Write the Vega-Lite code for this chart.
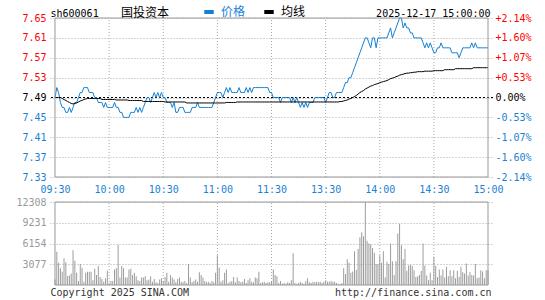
{
"$schema": "https://vega.github.io/schema/vega-lite/v6.json",
"width": 443, "height": 267,
"autosize": {"type": "none"},
"padding": {"left": 50, "top": 18, "right": 52, "bottom": 15},
"background": "white",
"config": {
  "view": {"stroke": null},
  "font": "DejaVu Sans Mono",
  "axis": {"labelFont": "DejaVu Sans Mono", "labelFontSize": 10, "titleFont": "DejaVu Sans Mono", "titleFontSize": 10, "titleFontWeight": "normal", "labelOverlap": false},
  "axisX": {"grid": false}
},
"datasets": {
"vg": [{"m":30},{"m":60},{"m":90},{"m":120},{"m":150},{"m":180},{"m":210}],
"d": [
{"m":0,"p":7.49,"a":7.490,"v":800},{"m":1,"p":7.51,"a":7.490,"v":4920},{"m":2,"p":7.50,"a":7.490,"v":3290},{"m":3,"p":7.48,"a":7.490,"v":2500},{"m":4,"p":7.47,"a":7.488,"v":1960},{"m":5,"p":7.47,"a":7.486,"v":3980},{"m":6,"p":7.46,"a":7.484,"v":3390},{"m":7,"p":7.46,"a":7.482,"v":1320},{"m":8,"p":7.47,"a":7.480,"v":1400},{"m":9,"p":7.46,"a":7.478,"v":1700},
{"m":10,"p":7.47,"a":7.477,"v":5170},{"m":11,"p":7.48,"a":7.478,"v":3590},{"m":12,"p":7.48,"a":7.479,"v":1800},{"m":13,"p":7.49,"a":7.481,"v":600},{"m":14,"p":7.50,"a":7.483,"v":3100},{"m":15,"p":7.50,"a":7.484,"v":2550},{"m":16,"p":7.51,"a":7.486,"v":500},{"m":17,"p":7.51,"a":7.487,"v":1800},{"m":18,"p":7.51,"a":7.488,"v":1950},{"m":19,"p":7.50,"a":7.488,"v":1950},
{"m":20,"p":7.50,"a":7.488,"v":1950},{"m":21,"p":7.50,"a":7.488,"v":700},{"m":22,"p":7.49,"a":7.488,"v":2400},{"m":23,"p":7.49,"a":7.488,"v":1500},{"m":24,"p":7.48,"a":7.488,"v":2800},{"m":25,"p":7.48,"a":7.488,"v":1200},{"m":26,"p":7.48,"a":7.486,"v":900},{"m":27,"p":7.47,"a":7.486,"v":500},{"m":28,"p":7.48,"a":7.486,"v":1000},{"m":29,"p":7.47,"a":7.486,"v":2100},
{"m":30,"p":7.47,"a":7.486,"v":300},{"m":31,"p":7.47,"a":7.486,"v":600},{"m":32,"p":7.47,"a":7.486,"v":600},{"m":33,"p":7.48,"a":7.486,"v":2300},{"m":34,"p":7.47,"a":7.485,"v":2500},{"m":35,"p":7.47,"a":7.485,"v":5950},{"m":36,"p":7.46,"a":7.485,"v":1100},{"m":37,"p":7.46,"a":7.485,"v":2800},{"m":38,"p":7.45,"a":7.485,"v":2500},{"m":39,"p":7.45,"a":7.485,"v":1100},
{"m":40,"p":7.45,"a":7.485,"v":1100},{"m":41,"p":7.45,"a":7.484,"v":2300},{"m":42,"p":7.46,"a":7.484,"v":2400},{"m":43,"p":7.46,"a":7.484,"v":1500},{"m":44,"p":7.46,"a":7.484,"v":1800},{"m":45,"p":7.47,"a":7.484,"v":1300},{"m":46,"p":7.46,"a":7.484,"v":700},{"m":47,"p":7.47,"a":7.484,"v":600},{"m":48,"p":7.46,"a":7.484,"v":1100},{"m":49,"p":7.47,"a":7.482,"v":1100},
{"m":50,"p":7.48,"a":7.482,"v":1300},{"m":51,"p":7.49,"a":7.482,"v":700},{"m":52,"p":7.49,"a":7.482,"v":800},{"m":53,"p":7.48,"a":7.482,"v":1300},{"m":54,"p":7.49,"a":7.482,"v":500},{"m":55,"p":7.50,"a":7.482,"v":900},{"m":56,"p":7.49,"a":7.482,"v":400},{"m":57,"p":7.50,"a":7.482,"v":300},{"m":58,"p":7.49,"a":7.482,"v":800},{"m":59,"p":7.50,"a":7.482,"v":1000},
{"m":60,"p":7.49,"a":7.482,"v":600},{"m":61,"p":7.49,"a":7.481,"v":1200},{"m":62,"p":7.48,"a":7.481,"v":1800},{"m":63,"p":7.48,"a":7.481,"v":500},{"m":64,"p":7.48,"a":7.481,"v":1500},{"m":65,"p":7.47,"a":7.481,"v":1100},{"m":66,"p":7.48,"a":7.481,"v":800},{"m":67,"p":7.46,"a":7.481,"v":400},{"m":68,"p":7.46,"a":7.481,"v":900},{"m":69,"p":7.47,"a":7.481,"v":1100},
{"m":70,"p":7.47,"a":7.481,"v":500},{"m":71,"p":7.47,"a":7.481,"v":400},{"m":72,"p":7.46,"a":7.481,"v":600},{"m":73,"p":7.46,"a":7.479,"v":300},{"m":74,"p":7.46,"a":7.479,"v":3100},{"m":75,"p":7.46,"a":7.479,"v":1100},{"m":76,"p":7.47,"a":7.479,"v":400},{"m":77,"p":7.47,"a":7.479,"v":600},{"m":78,"p":7.47,"a":7.479,"v":800},{"m":79,"p":7.48,"a":7.479,"v":500},
{"m":80,"p":7.47,"a":7.479,"v":1900},{"m":81,"p":7.47,"a":7.479,"v":1500},{"m":82,"p":7.47,"a":7.479,"v":1100},{"m":83,"p":7.47,"a":7.479,"v":600},{"m":84,"p":7.47,"a":7.479,"v":400},{"m":85,"p":7.47,"a":7.479,"v":500},{"m":86,"p":7.47,"a":7.479,"v":300},{"m":87,"p":7.47,"a":7.479,"v":600},{"m":88,"p":7.48,"a":7.479,"v":400},{"m":89,"p":7.49,"a":7.479,"v":1800},
{"m":90,"p":7.50,"a":7.479,"v":4430},{"m":91,"p":7.50,"a":7.479,"v":2600},{"m":92,"p":7.50,"a":7.479,"v":500},{"m":93,"p":7.49,"a":7.479,"v":700},{"m":94,"p":7.50,"a":7.479,"v":1800},{"m":95,"p":7.51,"a":7.480,"v":2300},{"m":96,"p":7.50,"a":7.480,"v":300},{"m":97,"p":7.51,"a":7.480,"v":500},{"m":98,"p":7.50,"a":7.480,"v":600},{"m":99,"p":7.50,"a":7.480,"v":1200},
{"m":100,"p":7.50,"a":7.480,"v":400},{"m":101,"p":7.50,"a":7.481,"v":1100},{"m":102,"p":7.51,"a":7.481,"v":600},{"m":103,"p":7.50,"a":7.481,"v":400},{"m":104,"p":7.50,"a":7.481,"v":500},{"m":105,"p":7.50,"a":7.481,"v":900},{"m":106,"p":7.51,"a":7.481,"v":300},{"m":107,"p":7.50,"a":7.481,"v":700},{"m":108,"p":7.51,"a":7.481,"v":1000},{"m":109,"p":7.50,"a":7.481,"v":500},
{"m":110,"p":7.51,"a":7.481,"v":400},{"m":111,"p":7.51,"a":7.481,"v":1100},{"m":112,"p":7.51,"a":7.481,"v":1000},{"m":113,"p":7.51,"a":7.481,"v":1950},{"m":114,"p":7.51,"a":7.481,"v":300},{"m":115,"p":7.51,"a":7.481,"v":400},{"m":116,"p":7.51,"a":7.481,"v":500},{"m":117,"p":7.51,"a":7.481,"v":300},{"m":118,"p":7.51,"a":7.481,"v":400},{"m":119,"p":7.50,"a":7.481,"v":400},
{"m":120,"p":7.50,"a":7.481,"v":600},{"m":121,"p":7.49,"a":7.481,"v":2300},{"m":122,"p":7.49,"a":7.481,"v":1500},{"m":123,"p":7.49,"a":7.481,"v":1300},{"m":124,"p":7.49,"a":7.481,"v":300},{"m":125,"p":7.48,"a":7.481,"v":600},{"m":126,"p":7.49,"a":7.481,"v":200},{"m":127,"p":7.49,"a":7.481,"v":300},{"m":128,"p":7.49,"a":7.481,"v":200},{"m":129,"p":7.49,"a":7.481,"v":400},
{"m":130,"p":7.49,"a":7.481,"v":300},{"m":131,"p":7.48,"a":7.481,"v":700},{"m":132,"p":7.49,"a":7.481,"v":4700},{"m":133,"p":7.48,"a":7.481,"v":300},{"m":134,"p":7.49,"a":7.481,"v":200},{"m":135,"p":7.48,"a":7.481,"v":300},{"m":136,"p":7.47,"a":7.481,"v":500},{"m":137,"p":7.48,"a":7.481,"v":300},{"m":138,"p":7.47,"a":7.481,"v":200},{"m":139,"p":7.48,"a":7.481,"v":600},
{"m":140,"p":7.47,"a":7.481,"v":1000},{"m":141,"p":7.48,"a":7.481,"v":400},{"m":142,"p":7.48,"a":7.481,"v":300},{"m":143,"p":7.48,"a":7.481,"v":500},{"m":144,"p":7.49,"a":7.481,"v":400},{"m":145,"p":7.49,"a":7.481,"v":500},{"m":146,"p":7.49,"a":7.481,"v":400},{"m":147,"p":7.49,"a":7.481,"v":500},{"m":148,"p":7.49,"a":7.481,"v":300},{"m":149,"p":7.49,"a":7.481,"v":500},
{"m":150,"p":7.48,"a":7.481,"v":700},{"m":151,"p":7.49,"a":7.481,"v":500},{"m":152,"p":7.50,"a":7.481,"v":500},{"m":153,"p":7.50,"a":7.481,"v":600},{"m":154,"p":7.49,"a":7.481,"v":500},{"m":155,"p":7.49,"a":7.481,"v":500},{"m":156,"p":7.50,"a":7.481,"v":300},{"m":157,"p":7.50,"a":7.481,"v":200},{"m":158,"p":7.50,"a":7.482,"v":150},{"m":159,"p":7.50,"a":7.482,"v":300},
{"m":160,"p":7.51,"a":7.483,"v":2500},{"m":161,"p":7.52,"a":7.484,"v":1620},{"m":162,"p":7.52,"a":7.485,"v":3830},{"m":163,"p":7.53,"a":7.487,"v":3290},{"m":164,"p":7.53,"a":7.488,"v":1800},{"m":165,"p":7.54,"a":7.490,"v":2000},{"m":166,"p":7.55,"a":7.492,"v":5020},{"m":167,"p":7.56,"a":7.494,"v":2210},{"m":168,"p":7.57,"a":7.497,"v":5320},{"m":169,"p":7.58,"a":7.500,"v":7090},
{"m":170,"p":7.59,"a":7.502,"v":7830},{"m":171,"p":7.60,"a":7.504,"v":7240},{"m":172,"p":7.61,"a":7.507,"v":12308},{"m":173,"p":7.61,"a":7.509,"v":6550},{"m":174,"p":7.60,"a":7.511,"v":6150},{"m":175,"p":7.59,"a":7.513,"v":6050},{"m":176,"p":7.61,"a":7.514,"v":5500},{"m":177,"p":7.61,"a":7.516,"v":4770},{"m":178,"p":7.59,"a":7.517,"v":3100},{"m":179,"p":7.61,"a":7.518,"v":3100},
{"m":180,"p":7.61,"a":7.520,"v":4430},{"m":181,"p":7.61,"a":7.521,"v":3290},{"m":182,"p":7.61,"a":7.522,"v":5020},{"m":183,"p":7.61,"a":7.523,"v":1130},{"m":184,"p":7.61,"a":7.524,"v":3440},{"m":185,"p":7.62,"a":7.526,"v":3100},{"m":186,"p":7.63,"a":7.528,"v":6150},{"m":187,"p":7.61,"a":7.529,"v":3540},{"m":188,"p":7.62,"a":7.530,"v":1500},{"m":189,"p":7.63,"a":7.532,"v":3540},
{"m":190,"p":7.64,"a":7.533,"v":7630},{"m":191,"p":7.65,"a":7.535,"v":9060},{"m":192,"p":7.65,"a":7.536,"v":5900},{"m":193,"p":7.63,"a":7.537,"v":3830},{"m":194,"p":7.64,"a":7.538,"v":5320},{"m":195,"p":7.63,"a":7.539,"v":2110},{"m":196,"p":7.63,"a":7.539,"v":2900},{"m":197,"p":7.62,"a":7.540,"v":3000},{"m":198,"p":7.62,"a":7.540,"v":2800},{"m":199,"p":7.61,"a":7.541,"v":2200},
{"m":200,"p":7.61,"a":7.541,"v":1200},{"m":201,"p":7.61,"a":7.542,"v":1300},{"m":202,"p":7.61,"a":7.542,"v":1500},{"m":203,"p":7.61,"a":7.542,"v":2100},{"m":204,"p":7.60,"a":7.542,"v":6150},{"m":205,"p":7.59,"a":7.543,"v":2900},{"m":206,"p":7.60,"a":7.543,"v":1400},{"m":207,"p":7.59,"a":7.543,"v":700},{"m":208,"p":7.60,"a":7.543,"v":1800},{"m":209,"p":7.59,"a":7.543,"v":700},
{"m":210,"p":7.58,"a":7.544,"v":4180},{"m":211,"p":7.58,"a":7.544,"v":2800},{"m":212,"p":7.59,"a":7.544,"v":1200},{"m":213,"p":7.59,"a":7.544,"v":2300},{"m":214,"p":7.60,"a":7.544,"v":1400},{"m":215,"p":7.59,"a":7.544,"v":2300},{"m":216,"p":7.59,"a":7.546,"v":1100},{"m":217,"p":7.59,"a":7.546,"v":2700},{"m":218,"p":7.59,"a":7.546,"v":1300},{"m":219,"p":7.59,"a":7.546,"v":2200},
{"m":220,"p":7.58,"a":7.546,"v":1300},{"m":221,"p":7.58,"a":7.546,"v":2200},{"m":222,"p":7.58,"a":7.548,"v":1000},{"m":223,"p":7.58,"a":7.548,"v":2100},{"m":224,"p":7.57,"a":7.548,"v":1200},{"m":225,"p":7.58,"a":7.548,"v":2700},{"m":226,"p":7.59,"a":7.548,"v":1900},{"m":227,"p":7.59,"a":7.548,"v":1700},{"m":228,"p":7.59,"a":7.548,"v":3190},{"m":229,"p":7.59,"a":7.548,"v":1400},
{"m":230,"p":7.59,"a":7.548,"v":1900},{"m":231,"p":7.60,"a":7.548,"v":1500},{"m":232,"p":7.59,"a":7.550,"v":1400},{"m":233,"p":7.60,"a":7.550,"v":3100},{"m":234,"p":7.59,"a":7.550,"v":1000},{"m":235,"p":7.59,"a":7.550,"v":1100},{"m":236,"p":7.59,"a":7.550,"v":2200},{"m":237,"p":7.59,"a":7.550,"v":2000},{"m":238,"p":7.59,"a":7.550,"v":1000},{"m":239,"p":7.59,"a":7.550,"v":2200},
{"m":240,"p":7.59,"a":7.550,"v":2200}
]
},
"layer": [
   {"data": {"name": "vg"},
    "mark": {"type": "rule", "color": "#aaaaaa", "strokeDash": [1, 2], "strokeWidth": 1},
    "encoding": {
      "x": {"field": "m", "type": "quantitative", "scale": {"domain": [0, 240], "nice": false, "zero": false}},
      "y": {"datum": 7.33, "type": "quantitative", "axis": null, "scale": {"domain": [7.33, 7.65], "range": [159, 0], "nice": false, "zero": false}},
      "y2": {"datum": 7.65}
    }},
   {"data": {"name": "vg"},
    "mark": {"type": "rule", "color": "#aaaaaa", "strokeDash": [1, 2], "strokeWidth": 1},
    "encoding": {
      "x": {"field": "m", "type": "quantitative"},
      "y": {"datum": 0, "type": "quantitative", "axis": null, "scale": {"domain": [0, 12308], "range": [267, 184], "nice": false, "zero": false}},
      "y2": {"datum": 12308}
    }},
   {"data": {"values": [{}]},
    "mark": {"type": "rule", "color": "#000000", "strokeDash": [2, 2], "strokeWidth": 1},
    "encoding": {"y": {"datum": 7.49, "type": "quantitative", "axis": null, "scale": {"domain": [7.33, 7.65], "range": [159, 0], "nice": false, "zero": false}}}},
   {"data": {"name": "d"},
    "mark": {"type": "bar", "width": 1, "color": "#9c9c9c"},
    "encoding": {
      "x": {"field": "m", "type": "quantitative"},
      "y": {"field": "v", "type": "quantitative",
        "scale": {"domain": [0, 12308], "range": [267, 184], "nice": false, "zero": false},
        "axis": {"orient": "left", "values": [3077, 6154, 9231, 12308], "format": "d", "labelColor": "#999999",
          "ticks": false, "tickSize": 0, "domain": false, "grid": true, "gridColor": "#aaaaaa", "gridDash": [1, 2], "labelPadding": 4,
          "title": "http://finance.sina.com.cn", "titleX": 441, "titleY": 277, "titleAngle": 0, "titleAlign": "right", "titleAnchor": null, "titleBaseline": "alphabetic", "titleColor": "#333333"}},
      "y2": {"datum": 0}
    }},
   {"data": {"name": "d"},
    "mark": {"type": "line", "strokeWidth": 1},
    "encoding": {
      "x": {"field": "m", "type": "quantitative",
        "axis": {"orient": "bottom", "offset": -108, "values": [0, 30, 60, 90, 120, 150, 180, 210, 240],
          "labelExpr": "['09:30','10:00','10:30','11:00','11:30','13:30','14:00','14:30','15:00'][round(datum.value/30)]",
          "labelColor": "#1a82d4", "labelFlush": false, "labelBound": false, "ticks": false, "tickSize": 0, "domain": false, "grid": false, "labelPadding": 7,
          "title": "Copyright 2025 SINA.COM", "titleX": 0, "titleY": 118, "titleAlign": "left", "titleAnchor": null, "titleBaseline": "alphabetic", "titleColor": "#333333"}},
      "y": {"field": "p", "type": "quantitative",
        "scale": {"domain": [7.33, 7.65], "range": [159, 0], "nice": false, "zero": false},
        "axis": {"orient": "left", "values": [7.33, 7.37, 7.41, 7.45, 7.49, 7.53, 7.57, 7.61, 7.65], "format": ".2f",
          "labelColor": {"expr": "datum.value > 7.491 ? '#ff0000' : (datum.value < 7.489 ? '#1a82d4' : '#000000')"},
          "ticks": false, "tickSize": 0, "domain": false, "grid": true, "gridColor": "#aaaaaa", "gridDash": [1, 2], "labelPadding": 4,
          "title": "sh600061", "titleX": 0, "titleY": -2, "titleAngle": 0, "titleAlign": "left", "titleAnchor": null, "titleBaseline": "alphabetic", "titleColor": "#000000"}},
      "color": {"datum": "价格", "type": "nominal",
        "scale": {"domain": ["价格", "均线"], "range": ["#1580d2", "#000000"]},
        "legend": {"orient": "none", "legendX": 71, "legendY": -13, "direction": "horizontal",
          "title": "国投资本", "titleOrient": "left", "titleFont": "Noto Sans CJK SC", "titleFontSize": 12, "titleFontWeight": "normal", "titleColor": "#000000", "titlePadding": 32,
          "labelFont": "Noto Sans CJK SC", "labelFontSize": 12,
          "labelColor": {"expr": "datum.label == '价格' ? '#1a82d4' : '#000000'"},
          "symbolType": "stroke", "symbolStrokeWidth": 4, "symbolSize": 90, "labelOffset": 5, "columnPadding": 10, "padding": 0}}
    }},
   {"data": {"name": "d"},
    "mark": {"type": "line", "strokeWidth": 1},
    "encoding": {
      "x": {"field": "m", "type": "quantitative"},
      "y": {"field": "a", "type": "quantitative",
        "scale": {"domain": [7.33, 7.65], "range": [159, 0], "nice": false, "zero": false},
        "axis": {"orient": "right", "values": [7.33, 7.37, 7.41, 7.45, 7.49, 7.53, 7.57, 7.61, 7.65],
          "labelExpr": "(datum.value > 7.491 ? '+' : (datum.value < 7.489 ? '-' : '')) + format(abs(datum.value / 7.49 - 1) * 100, '.2f') + '%'",
          "labelColor": {"expr": "datum.value > 7.491 ? '#ff0000' : (datum.value < 7.489 ? '#1a82d4' : '#000000')"},
          "ticks": false, "tickSize": 0, "domain": false, "grid": false, "labelPadding": 2,
          "title": "2025-12-17 15:00:00", "titleX": -3, "titleY": -2, "titleAngle": 0, "titleAlign": "right", "titleAnchor": null, "titleBaseline": "alphabetic", "titleColor": "#000000"}},
      "color": {"datum": "均线", "type": "nominal"}
    }},
   {"data": {"values": [{}]},
    "mark": {"type": "rect", "fill": null, "stroke": "#999999", "strokeWidth": 1},
    "encoding": {
      "x": {"datum": 0, "type": "quantitative"}, "x2": {"datum": 240},
      "y": {"datum": 7.33, "type": "quantitative", "axis": null, "scale": {"domain": [7.33, 7.65], "range": [159, 0], "nice": false, "zero": false}}, "y2": {"datum": 7.65}
    }},
   {"data": {"values": [{}]},
    "mark": {"type": "rect", "fill": null, "stroke": "#999999", "strokeWidth": 1},
    "encoding": {
      "x": {"datum": 0, "type": "quantitative"}, "x2": {"datum": 240},
      "y": {"datum": 0, "type": "quantitative", "axis": null, "scale": {"domain": [0, 12308], "range": [267, 184], "nice": false, "zero": false}}, "y2": {"datum": 12308}
    }}
],
"resolve": {"scale": {"y": "independent"}, "axis": {"y": "independent"}}
}
